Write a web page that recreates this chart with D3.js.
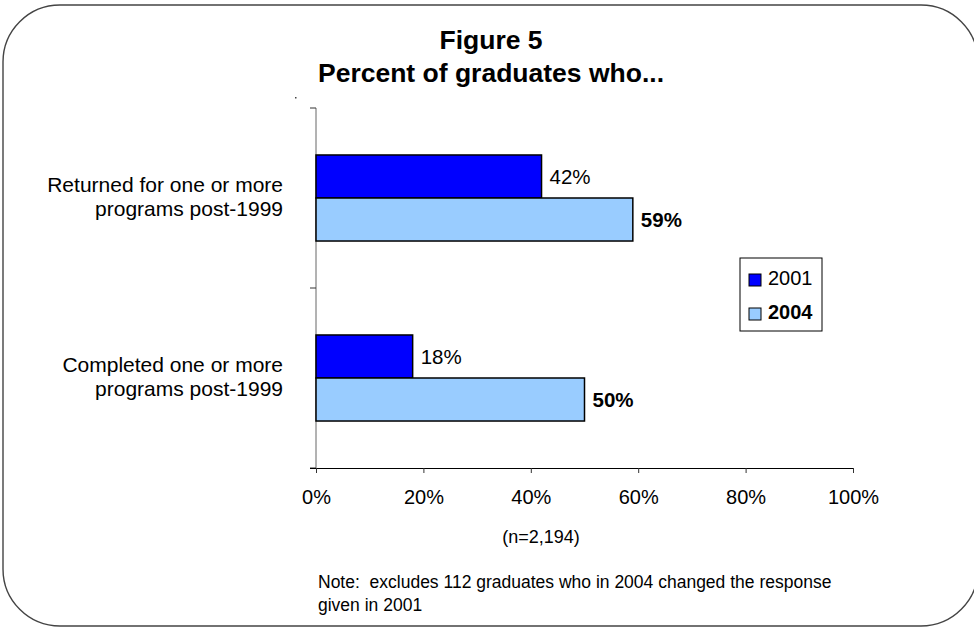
<!DOCTYPE html>
<html>
<head>
<meta charset="utf-8">
<script src="https://cdn.jsdelivr.net/npm/d3@7/dist/d3.min.js"></script>
<style>
  html, body { margin: 0; padding: 0; background: #fff; }
  svg { display: block; font-family: "Liberation Sans", Arial, sans-serif; }
</style>
</head>
<body>
<svg id="chart" width="974" height="627"></svg>
<script>
// Survey categories (each label split over two lines)
const categories = [
  ["Returned for one or more", "programs post-1999"],
  ["Completed one or more", "programs post-1999"]
];
const categoryKeys = ["returned", "completed"];

// Series: share of graduates, in percent
const seriesNames = ["2001", "2004"];
const values2001 = [42, 18];
const values2004 = [59, 50];

const xTicks = [0, 20, 40, 60, 80, 100];
const titleLines = ["Figure 5", "Percent of graduates who..."];
const sampleNote = "(n=2,194)";
const footnoteLines = [
  "Note:  excludes 112 graduates who in 2004 changed the response",
  "given in 2001"
];

const colors = { "2001": "#0000ff", "2004": "#99ccff" };
const boldSeries = { "2001": false, "2004": true };

const svg = d3.select("#chart");

// Rounded frame around the whole chart
svg.append("rect")
  .attr("x", 3).attr("y", 5)
  .attr("width", 975).attr("height", 621)
  .attr("rx", 57).attr("ry", 57)
  .attr("fill", "#fff")
  .attr("stroke", "#444")
  .attr("stroke-width", 1.4);

// Title
svg.append("g").selectAll("text")
  .data(titleLines)
  .join("text")
  .attr("x", 491)
  .attr("y", (d, i) => 49 + i * 33)
  .attr("text-anchor", "middle")
  .attr("font-size", 26.5)
  .attr("font-weight", "bold")
  .attr("fill", "#000")
  .text(d => d);

// Plot area
const plot = { left: 316, right: 853, top: 108, bottom: 468 };

const x = d3.scaleLinear().domain([0, 100]).range([plot.left, plot.right]);
const y = d3.scaleBand()
  .domain(categoryKeys)
  .range([plot.top, plot.bottom])
  .paddingInner(0.522)
  .paddingOuter(0.261);
const ySub = d3.scaleBand().domain(seriesNames).range([0, y.bandwidth()]);

const rows = categoryKeys.map((k, i) => ({
  key: k,
  label: categories[i],
  values: [
    { series: "2001", value: values2001[i] },
    { series: "2004", value: values2004[i] }
  ]
}));

// Small leftover point above the category axis
svg.append("rect")
  .attr("x", plot.left - 21).attr("y", plot.top - 11)
  .attr("width", 1.5).attr("height", 1.5)
  .attr("fill", "#444");

// Category axis (left): line with ticks at the band boundaries
const yAxisG = svg.append("g");
yAxisG.append("line")
  .attr("x1", plot.left).attr("x2", plot.left)
  .attr("y1", plot.top).attr("y2", plot.bottom)
  .attr("stroke", "#666").attr("stroke-width", 1);
const boundaries = [plot.top].concat(categoryKeys.map(k => y(k) - y.step() * y.paddingOuter() + y.step()));
yAxisG.selectAll("line.tick")
  .data(boundaries)
  .join("line")
  .attr("class", "tick")
  .attr("x1", plot.left - 6).attr("x2", plot.left)
  .attr("y1", d => d).attr("y2", d => d)
  .attr("stroke", "#333").attr("stroke-width", 1);

// Category labels
const labelG = svg.append("g");
rows.forEach(r => {
  const cy = y(r.key) + y.bandwidth() / 2;
  labelG.append("text")
    .attr("x", 283)
    .attr("y", cy - 6)
    .attr("text-anchor", "end")
    .attr("font-size", 21)
    .attr("fill", "#000")
    .selectAll("tspan")
    .data(r.label)
    .join("tspan")
    .attr("x", 283)
    .attr("dy", (d, i) => i === 0 ? 0 : 24)
    .text(d => d);
});

// Bars
const barG = svg.append("g");
rows.forEach(r => {
  const g = barG.append("g").attr("transform", `translate(0,${y(r.key)})`);
  g.selectAll("rect")
    .data(r.values)
    .join("rect")
    .attr("x", x(0))
    .attr("y", d => ySub(d.series))
    .attr("width", d => x(d.value) - x(0))
    .attr("height", ySub.bandwidth())
    .attr("fill", d => colors[d.series])
    .attr("stroke", "#000")
    .attr("stroke-width", 1.5);
  g.selectAll("text")
    .data(r.values)
    .join("text")
    .attr("x", d => x(d.value) + 8)
    .attr("y", d => ySub(d.series) + ySub.bandwidth() / 2)
    .attr("dy", "0.36em")
    .attr("font-size", 20.5)
    .attr("font-weight", d => boldSeries[d.series] ? "bold" : "normal")
    .attr("fill", "#000")
    .text(d => d.value + "%");
});

// Value axis (bottom)
const xAxis = d3.axisBottom(x)
  .tickValues(xTicks)
  .tickSize(5)
  .tickPadding(17)
  .tickFormat(d => d + "%");
const xAxisG = svg.append("g")
  .attr("transform", `translate(0,${plot.bottom})`)
  .call(xAxis);
xAxisG.select(".domain")
  .attr("d", `M${plot.left - 6},0.5H${plot.right}`)
  .attr("stroke", "#000");
xAxisG.selectAll(".tick line").attr("stroke", "#333");
xAxisG.selectAll(".tick text")
  .attr("font-family", "Liberation Sans, Arial, sans-serif")
  .attr("font-size", 20)
  .attr("fill", "#000");

// Sample size
svg.append("text")
  .attr("x", 541).attr("y", 543)
  .attr("text-anchor", "middle")
  .attr("font-size", 18)
  .attr("fill", "#000")
  .text(sampleNote);

// Footnote (keeps the double space after "Note:")
svg.append("g").selectAll("text")
  .data(footnoteLines)
  .join("text")
  .attr("x", 318)
  .attr("y", (d, i) => 588 + i * 23)
  .attr("font-size", 17.5)
  .attr("fill", "#000")
  .style("white-space", "pre")
  .text(d => d);

// Legend
const legend = svg.append("g");
legend.append("rect")
  .attr("x", 740).attr("y", 258)
  .attr("width", 82).attr("height", 73)
  .attr("fill", "#fff")
  .attr("stroke", "#000").attr("stroke-width", 1);
const items = legend.selectAll("g.item")
  .data(seriesNames)
  .join("g")
  .attr("class", "item")
  .attr("transform", (d, i) => `translate(749,${274 + i * 34})`);
items.append("rect")
  .attr("width", 12).attr("height", 12)
  .attr("fill", d => colors[d])
  .attr("stroke", "#000").attr("stroke-width", 1);
items.append("text")
  .attr("x", 19).attr("y", 11)
  .attr("font-size", 20)
  .attr("font-weight", d => boldSeries[d] ? "bold" : "normal")
  .attr("fill", "#000")
  .text(d => d);
</script>
</body>
</html>
